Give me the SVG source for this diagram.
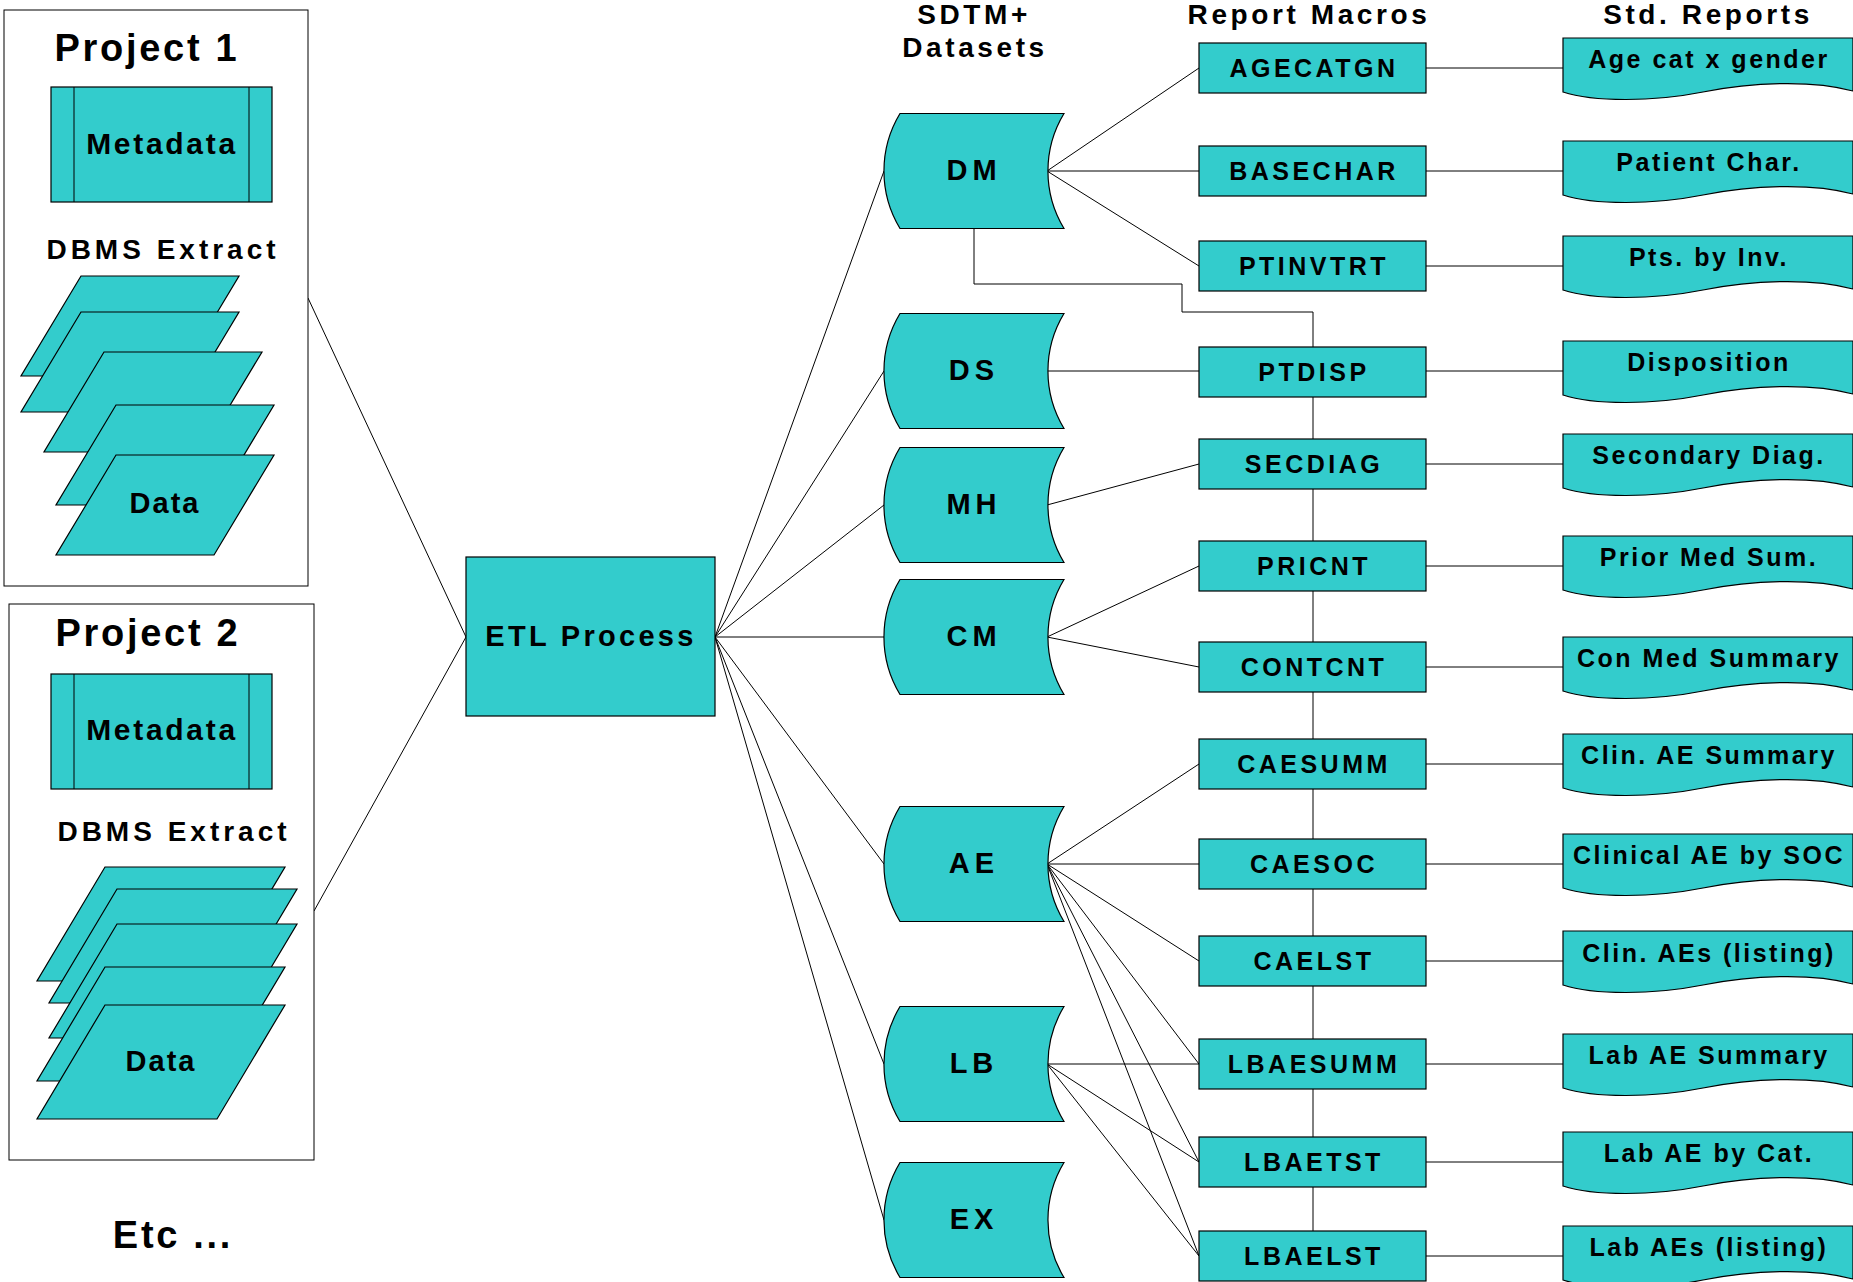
<svg xmlns="http://www.w3.org/2000/svg" xmlns:xlink="http://www.w3.org/1999/xlink" width="1853" height="1282" viewBox="0 0 1853 1282">
<style>
.n{fill:#33CCCC;stroke:#000;stroke-width:1.2}
.c{fill:none;stroke:#000;stroke-width:1}
.frame{fill:#fff;stroke:#000;stroke-width:1}
text{font-family:"Liberation Sans",Arial,sans-serif;font-weight:bold;fill:#000;text-anchor:middle}
.big{font-size:38px;letter-spacing:2.7px}
.meta{font-size:30px;letter-spacing:2.7px}
.dbms{font-size:28px;letter-spacing:4px}
.data{font-size:29px;letter-spacing:2px}
.etl{font-size:29px;letter-spacing:3.3px}
.ds{font-size:29px;letter-spacing:5px}
.hdr{font-size:28px;letter-spacing:3.6px}
.mac{font-size:25px;letter-spacing:3.5px}
.rep{font-size:25px;letter-spacing:2.5px}
</style>
<defs>
<path id="dset" d="M16,0 H180 A111 111 0 0 0 180,115 H16 A111 111 0 0 1 16,0 Z"/>
<path id="doc" d="M0,0 H290 V53 C250,42 190,44 140,54 S30,64 0,54 Z"/>
</defs>
<rect width="1853" height="1282" fill="#fff"/>

<g id="connectors">
<path class="c" d="M308,298 L466,637 M314,911 L466,637"/>
<path class="c" d="M715,637 L884,171 M715,637 L884,371 M715,637 L884,505 M715,637 L884,637 M715,637 L884,864 M715,637 L884,1064 M715,637 L884,1220"/>
<path class="c" d="M1047,171 L1199,68 M1047,171 L1199,171 M1047,171 L1199,266"/>
<path class="c" d="M1047,371 L1199,371"/>
<path class="c" d="M1047,505 L1199,464"/>
<path class="c" d="M1047,637 L1199,566 M1047,637 L1199,667"/>
<path class="c" d="M1047,864 L1199,764 M1047,864 L1199,864 M1047,864 L1199,961 M1047,864 L1199,1064 M1047,864 L1199,1162 M1047,864 L1199,1256"/>
<path class="c" d="M1047,1064 L1199,1064 M1047,1064 L1199,1162 M1047,1064 L1199,1256"/>
<path class="c" d="M974,229 V284 H1182 V312 H1313 V1231"/>
<path class="c" d="M1426,68 H1563 M1426,171 H1563 M1426,266 H1563 M1426,371 H1563 M1426,464 H1563 M1426,566 H1563 M1426,667 H1563 M1426,764 H1563 M1426,864 H1563 M1426,961 H1563 M1426,1064 H1563 M1426,1162 H1563 M1426,1256 H1563"/>
</g>

<g id="project1">
<rect class="frame" x="4" y="10" width="304" height="576"/>
<text class="big" x="147" y="61">Project 1</text>
<g id="p1-metadata">
<rect class="n" x="51" y="87" width="221" height="115"/>
<path class="c" d="M74,87 V202 M249,87 V202"/>
<text class="meta" x="162" y="154">Metadata</text>
</g>
<text class="dbms" x="163" y="259">DBMS Extract</text>
<g id="p1-data">
<polygon class="n" points="81,276 239,276 179,376 21,376"/>
<polygon class="n" points="81,312 239,312 179,412 21,412"/>
<polygon class="n" points="104,352 262,352 202,452 44,452"/>
<polygon class="n" points="116,405 274,405 214,505 56,505"/>
<polygon class="n" points="116,455 274,455 214,555 56,555"/>
<text class="data" x="165" y="513">Data</text>
</g>
</g>

<g id="project2">
<rect class="frame" x="9" y="604" width="305" height="556"/>
<text class="big" x="148" y="646">Project 2</text>
<g id="p2-metadata">
<rect class="n" x="51" y="674" width="221" height="115"/>
<path class="c" d="M74,674 V789 M249,674 V789"/>
<text class="meta" x="162" y="740">Metadata</text>
</g>
<text class="dbms" x="174" y="841">DBMS Extract</text>
<g id="p2-data">
<polygon class="n" points="105,867 285,867 217,981 37,981"/>
<polygon class="n" points="117,889 297,889 229,1003 49,1003"/>
<polygon class="n" points="117,924 297,924 229,1038 49,1038"/>
<polygon class="n" points="105,967 285,967 217,1081 37,1081"/>
<polygon class="n" points="105,1005 285,1005 217,1119 37,1119"/>
<text class="data" x="161" y="1071">Data</text>
</g>
</g>

<text id="etc" class="big" x="173" y="1248">Etc ...</text>

<g id="etl">
<rect class="n" x="466" y="557" width="249" height="159"/>
<text class="etl" x="591" y="646">ETL Process</text>
</g>

<g id="headers">
<text class="hdr" x="974" y="24">SDTM+</text>
<text class="hdr" x="975" y="57">Datasets</text>
<text class="hdr" x="1309" y="24">Report Macros</text>
<text class="hdr" x="1708" y="24">Std. Reports</text>
</g>

<g id="ds-DM"><use href="#dset" xlink:href="#dset" class="n" x="884" y="113.5"/><text class="ds" x="974" y="180">DM</text></g>
<g id="ds-DS"><use href="#dset" xlink:href="#dset" class="n" x="884" y="313.5"/><text class="ds" x="974" y="380">DS</text></g>
<g id="ds-MH"><use href="#dset" xlink:href="#dset" class="n" x="884" y="447.5"/><text class="ds" x="974" y="514">MH</text></g>
<g id="ds-CM"><use href="#dset" xlink:href="#dset" class="n" x="884" y="579.5"/><text class="ds" x="974" y="646">CM</text></g>
<g id="ds-AE"><use href="#dset" xlink:href="#dset" class="n" x="884" y="806.5"/><text class="ds" x="974" y="873">AE</text></g>
<g id="ds-LB"><use href="#dset" xlink:href="#dset" class="n" x="884" y="1006.5"/><text class="ds" x="974" y="1073">LB</text></g>
<g id="ds-EX"><use href="#dset" xlink:href="#dset" class="n" x="884" y="1162.5"/><text class="ds" x="974" y="1229">EX</text></g>

<g id="m-AGECATGN"><rect class="n" x="1199" y="43" width="227" height="50"/><text class="mac" x="1314" y="77">AGECATGN</text></g>
<g id="m-BASECHAR"><rect class="n" x="1199" y="146" width="227" height="50"/><text class="mac" x="1314" y="180">BASECHAR</text></g>
<g id="m-PTINVTRT"><rect class="n" x="1199" y="241" width="227" height="50"/><text class="mac" x="1314" y="275">PTINVTRT</text></g>
<g id="m-PTDISP"><rect class="n" x="1199" y="347" width="227" height="50"/><text class="mac" x="1314" y="381">PTDISP</text></g>
<g id="m-SECDIAG"><rect class="n" x="1199" y="439" width="227" height="50"/><text class="mac" x="1314" y="473">SECDIAG</text></g>
<g id="m-PRICNT"><rect class="n" x="1199" y="541" width="227" height="50"/><text class="mac" x="1314" y="575">PRICNT</text></g>
<g id="m-CONTCNT"><rect class="n" x="1199" y="642" width="227" height="50"/><text class="mac" x="1314" y="676">CONTCNT</text></g>
<g id="m-CAESUMM"><rect class="n" x="1199" y="739" width="227" height="50"/><text class="mac" x="1314" y="773">CAESUMM</text></g>
<g id="m-CAESOC"><rect class="n" x="1199" y="839" width="227" height="50"/><text class="mac" x="1314" y="873">CAESOC</text></g>
<g id="m-CAELST"><rect class="n" x="1199" y="936" width="227" height="50"/><text class="mac" x="1314" y="970">CAELST</text></g>
<g id="m-LBAESUMM"><rect class="n" x="1199" y="1039" width="227" height="50"/><text class="mac" x="1314" y="1073">LBAESUMM</text></g>
<g id="m-LBAETST"><rect class="n" x="1199" y="1137" width="227" height="50"/><text class="mac" x="1314" y="1171">LBAETST</text></g>
<g id="m-LBAELST"><rect class="n" x="1199" y="1231" width="227" height="50"/><text class="mac" x="1314" y="1265">LBAELST</text></g>

<g id="r-agecat"><use href="#doc" xlink:href="#doc" class="n" x="1563" y="38"/><text class="rep" x="1709" y="68">Age cat x gender</text></g>
<g id="r-patchar"><use href="#doc" xlink:href="#doc" class="n" x="1563" y="141"/><text class="rep" x="1709" y="171">Patient Char.</text></g>
<g id="r-ptsinv"><use href="#doc" xlink:href="#doc" class="n" x="1563" y="236"/><text class="rep" x="1709" y="266">Pts. by Inv.</text></g>
<g id="r-disp"><use href="#doc" xlink:href="#doc" class="n" x="1563" y="341"/><text class="rep" x="1709" y="371">Disposition</text></g>
<g id="r-secdiag"><use href="#doc" xlink:href="#doc" class="n" x="1563" y="434"/><text class="rep" x="1709" y="464">Secondary Diag.</text></g>
<g id="r-priormed"><use href="#doc" xlink:href="#doc" class="n" x="1563" y="536"/><text class="rep" x="1709" y="566">Prior Med Sum.</text></g>
<g id="r-conmed"><use href="#doc" xlink:href="#doc" class="n" x="1563" y="637"/><text class="rep" x="1709" y="667">Con Med Summary</text></g>
<g id="r-clinaesum"><use href="#doc" xlink:href="#doc" class="n" x="1563" y="734"/><text class="rep" x="1709" y="764">Clin. AE Summary</text></g>
<g id="r-clinaesoc"><use href="#doc" xlink:href="#doc" class="n" x="1563" y="834"/><text class="rep" x="1709" y="864">Clinical AE by SOC</text></g>
<g id="r-clinaelst"><use href="#doc" xlink:href="#doc" class="n" x="1563" y="931"/><text class="rep" x="1709" y="962">Clin. AEs (listing)</text></g>
<g id="r-labaesum"><use href="#doc" xlink:href="#doc" class="n" x="1563" y="1034"/><text class="rep" x="1709" y="1064">Lab AE Summary</text></g>
<g id="r-labaecat"><use href="#doc" xlink:href="#doc" class="n" x="1563" y="1132"/><text class="rep" x="1709" y="1162">Lab AE by Cat.</text></g>
<g id="r-labaelst"><use href="#doc" xlink:href="#doc" class="n" x="1563" y="1226"/><text class="rep" x="1709" y="1256">Lab AEs (listing)</text></g>
</svg>
